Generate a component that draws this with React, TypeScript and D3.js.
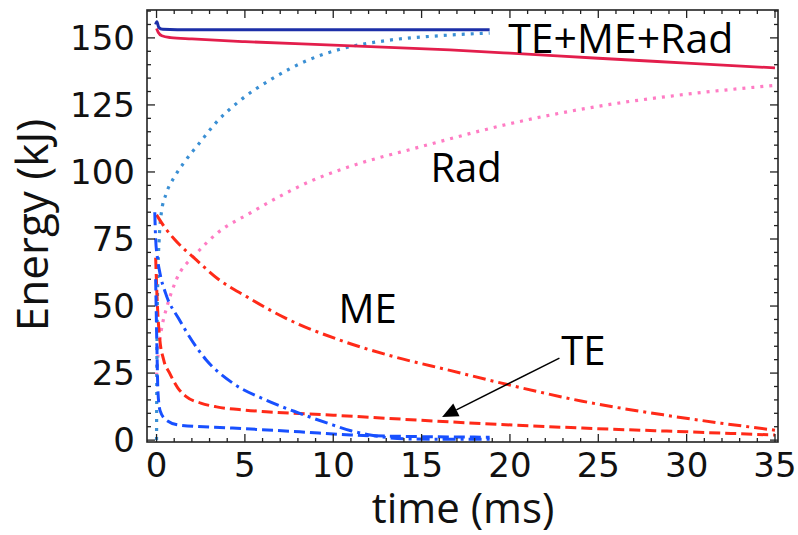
import React from "react";
import * as d3 from "d3";

// Energy balance over time for two cases (red and blue families)
// Each series: [time (ms), energy (kJ)]
const redTotal: [number, number][] = [
  [0, 153.5], [0.1, 152], [0.3, 150.8], [0.8, 150.1], [2, 149.6], [5, 148.6],
  [10, 147.3], [16.6, 145.5], [20, 144.3], [25, 142.4], [30, 140.6], [35, 138.8],
];
const blueTotal: [number, number][] = [
  [-0.05, 155], [0.02, 156], [0.12, 154], [0.35, 153.2], [2, 153], [10, 153], [18.85, 153],
];
const redRad: [number, number][] = [
  [0, 24], [0.1, 33], [0.27, 41], [0.6, 50], [1.1, 59.5], [2.25, 69.5], [3.4, 77],
  [5.3, 84.7], [7, 91], [8.8, 96.8], [10.7, 101.5], [15, 109.5], [20, 118],
  [25, 124.5], [30, 129], [35, 132.3],
];
const blueRad: [number, number][] = [
  [0, 0], [0.02, 30], [0.07, 60], [0.15, 75], [0.27, 84.7], [0.55, 92], [1, 98],
  [1.5, 103], [2.43, 110.8], [3.38, 118.5], [4.7, 126.5], [6.6, 135], [8.5, 141.5],
  [10.4, 145.8], [13, 149], [16, 150.8], [18.85, 151.8],
];
const redME: [number, number][] = [
  [0, 84], [0.5, 79], [1, 75], [2.25, 67.2], [3.5, 60], [5.1, 53.5], [7.3, 45.5],
  [10.5, 37], [13.5, 31], [16.6, 26], [20, 20.5], [24.1, 14.5], [28.9, 9.2], [35, 3.7],
];
const blueME: [number, number][] = [
  [-0.1, 85], [-0.05, 75], [0.05, 68], [0.2, 62], [0.5, 55], [1.3, 44.8], [2.8, 30],
  [4.3, 21.3], [6.2, 14.9], [8.1, 10], [10, 5.6], [11, 3.5], [12, 2], [13, 1],
  [14, 0.5], [16, 0.3], [18.85, 0.3],
];
const redTE: [number, number][] = [
  [-0.05, 68], [0.05, 50], [0.17, 38.5], [0.4, 30], [0.74, 25], [1.2, 19.5],
  [1.68, 16.2], [2.5, 13.8], [3.4, 12.4], [5, 11.2], [6.2, 10.6], [10, 9.3],
  [16.6, 6.8], [24.1, 4.5], [30, 3.1], [35, 1.9],
];
const blueTE: [number, number][] = [
  [-0.05, 60], [0.02, 35], [0.08, 18], [0.2, 11], [0.55, 7.5], [1.3, 5.6], [4.3, 4.5],
  [8.1, 3.1], [11, 1.9], [15, 1.3], [18.85, 1.1],
];

const xTicks = [0, 5, 10, 15, 20, 25, 30, 35];
const yTicks = [0, 25, 50, 75, 100, 125, 150];

const W = 798;
const H = 535;
const plot = { left: 147, right: 778, top: 10, bottom: 442 };

const x = d3.scaleLinear().domain([-0.54, 35.17]).range([plot.left, plot.right]);
const y = d3.scaleLinear().domain([-0.7, 160.4]).range([plot.bottom, plot.top]);

const line = d3
  .line<[number, number]>()
  .x((d) => x(d[0]))
  .y((d) => y(d[1]))
  .curve(d3.curveMonotoneX);

const DOT = "3 6";
const DASH = "11 5";
const DASHDOT = "13 5 3 5";

const series = [
  { data: redRad, color: "#ff7cc4", dash: DOT, w: 3.2 },
  { data: blueRad, color: "#3a8fd4", dash: DOT, w: 3.2 },
  { data: redME, color: "#ff2a18", dash: DASHDOT, w: 3 },
  { data: redTE, color: "#ff2a18", dash: DASH, w: 3 },
  { data: blueME, color: "#1850ff", dash: DASHDOT, w: 3 },
  { data: blueTE, color: "#1850ff", dash: DASH, w: 3 },
  { data: redTotal, color: "#e31e4c", dash: null, w: 2.8 },
  { data: blueTotal, color: "#1c2fa8", dash: null, w: 3 },
];

const labelFont = "'Open Sans', 'Liberation Sans', sans-serif";
const tickFont = "'DejaVu Sans', sans-serif";

export default function App() {
  const xMinor = d3.range(0, 36, 1).filter((v) => v % 5 !== 0);
  const yMinor = d3.range(0, 161, 5).filter((v) => v % 25 !== 0);
  const MAJ = 8;
  const MIN = 4;
  const axisColor = "#222";

  const arrowTip: [number, number] = [16.16, 8.6];
  const arrowTail: [number, number] = [22.8, 30.6];
  const ax1 = x(arrowTail[0]);
  const ay1 = y(arrowTail[1]);
  const ax2 = x(arrowTip[0]);
  const ay2 = y(arrowTip[1]);
  const ang = Math.atan2(ay2 - ay1, ax2 - ax1);
  const headLen = 16;
  const headHalf = 7;
  const bx = ax2 - headLen * Math.cos(ang);
  const by = ay2 - headLen * Math.sin(ang);
  const px = -Math.sin(ang) * headHalf;
  const py = Math.cos(ang) * headHalf;

  return (
    <svg
      width={W}
      height={H}
      style={{ position: "fixed", left: 0, top: 0, background: "#fff" }}
    >
      <defs>
        <clipPath id="plotClip">
          <rect
            x={plot.left}
            y={plot.top}
            width={plot.right - plot.left}
            height={plot.bottom - plot.top}
          />
        </clipPath>
      </defs>
      <rect width={W} height={H} fill="#fff" />

      <g clipPath="url(#plotClip)">
        {series.map((s, i) => (
          <path
            key={i}
            d={line(s.data) || ""}
            fill="none"
            stroke={s.color}
            strokeWidth={s.w}
            strokeDasharray={s.dash || undefined}
            strokeLinejoin="round"
          />
        ))}
      </g>

      {/* ticks on all four sides, pointing inward */}
      <g stroke={axisColor} strokeWidth={1.3}>
        {xTicks.map((t) => (
          <g key={"xt" + t}>
            <line x1={x(t)} x2={x(t)} y1={plot.bottom} y2={plot.bottom - MAJ} />
            <line x1={x(t)} x2={x(t)} y1={plot.top} y2={plot.top + MAJ} />
          </g>
        ))}
        {xMinor.map((t) => (
          <g key={"xm" + t}>
            <line x1={x(t)} x2={x(t)} y1={plot.bottom} y2={plot.bottom - MIN} />
            <line x1={x(t)} x2={x(t)} y1={plot.top} y2={plot.top + MIN} />
          </g>
        ))}
        {yTicks.map((t) => (
          <g key={"yt" + t}>
            <line x1={plot.left} x2={plot.left + MAJ} y1={y(t)} y2={y(t)} />
            <line x1={plot.right} x2={plot.right - MAJ} y1={y(t)} y2={y(t)} />
          </g>
        ))}
        {yMinor.map((t) => (
          <g key={"ym" + t}>
            <line x1={plot.left} x2={plot.left + MIN} y1={y(t)} y2={y(t)} />
            <line x1={plot.right} x2={plot.right - MIN} y1={y(t)} y2={y(t)} />
          </g>
        ))}
      </g>
      <rect
        x={plot.left}
        y={plot.top}
        width={plot.right - plot.left}
        height={plot.bottom - plot.top}
        fill="none"
        stroke={axisColor}
        strokeWidth={1.6}
      />

      {/* tick labels */}
      <g fontFamily={tickFont} fontSize={34} fill="#111">
        {xTicks.map((t) => (
          <text key={"xl" + t} x={x(t)} y={plot.bottom + 35} textAnchor="middle">
            {t}
          </text>
        ))}
        {yTicks.map((t) => (
          <text
            key={"yl" + t}
            x={plot.left - 12}
            y={y(t)}
            textAnchor="end"
            dominantBaseline="central"
          >
            {t}
          </text>
        ))}
      </g>

      {/* axis titles */}
      <text
        x={463}
        y={523}
        textAnchor="middle"
        fontFamily={labelFont}
        fontSize={42}
        fill="#111"
      >
        time (ms)
      </text>
      <text
        transform={`translate(48, 225) rotate(-90)`}
        textAnchor="middle"
        fontFamily={labelFont}
        fontSize={44}
        fill="#111"
      >
        Energy (kJ)
      </text>

      {/* annotations */}
      <g fontFamily={labelFont} fontSize={40} fill="#000">
        <text x={x(19.9)} y={y(144.4)} fontSize={41}>TE+ME+Rad</text>
        <text x={x(15.5)} y={y(96.3)}>Rad</text>
        <text x={x(10.3)} y={y(43.7)}>ME</text>
        <text x={x(22.9)} y={y(28)}>TE</text>
      </g>
      <line x1={ax1} y1={ay1} x2={bx} y2={by} stroke="#000" strokeWidth={1.5} />
      <polygon
        points={`${ax2},${ay2} ${bx + px},${by + py} ${bx - px},${by - py}`}
        fill="#000"
      />
    </svg>
  );
}
